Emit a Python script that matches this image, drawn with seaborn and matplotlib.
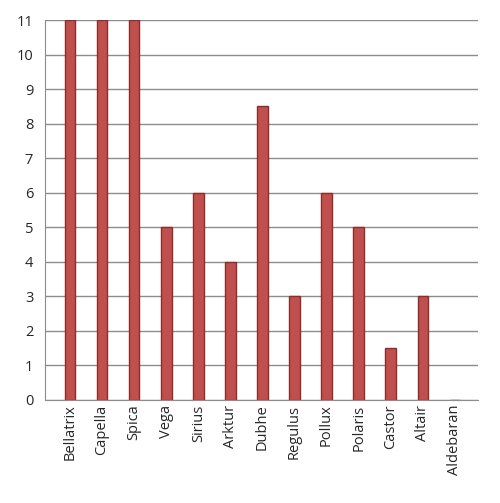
import matplotlib
matplotlib.use('Agg')
import matplotlib.pyplot as plt
import seaborn as sns

stars = ['Bellatrix', 'Capella', 'Spica', 'Vega', 'Sirius', 'Arktur', 'Dubhe',
         'Regulus', 'Pollux', 'Polaris', 'Castor', 'Altair', 'Aldebaran']
values = [11, 11, 11, 5, 6, 4, 8.5, 3, 6, 5, 1.5, 3, 0]

sns.set_style('white')
plt.rcParams['font.family'] = ['Open Sans', 'DejaVu Sans']

fig = plt.figure(figsize=(5, 5.03), dpi=100)
ax = fig.add_axes([0.09, 0.205, 0.866, 0.755])
ax.grid(axis='y', color='#8c8c8c', linewidth=1)
ax.set_axisbelow(True)
sns.barplot(x=stars, y=values, color='#C0504D', width=0.33, saturation=1,
            edgecolor='#8B2E2B', linewidth=1, ax=ax)
ax.set_ylim(0, 11)
ax.set_yticks(range(12))
ax.set_xlim(-0.78, len(stars) - 0.28)
ax.set_xticks([i - 0.5 for i in range(len(stars) + 1)], minor=True)
ax.tick_params(axis='x', which='major', length=0, labelrotation=90, labelsize=10.5)
ax.tick_params(axis='x', which='minor', length=5, color='#8c8c8c', direction='out')
ax.tick_params(axis='y', length=5, color='#8c8c8c', labelsize=10.5, direction='out')
for s in ['top', 'right']:
    ax.spines[s].set_visible(False)
for s in ['left', 'bottom']:
    ax.spines[s].set_color('#8c8c8c')
fig.savefig('out.png')
